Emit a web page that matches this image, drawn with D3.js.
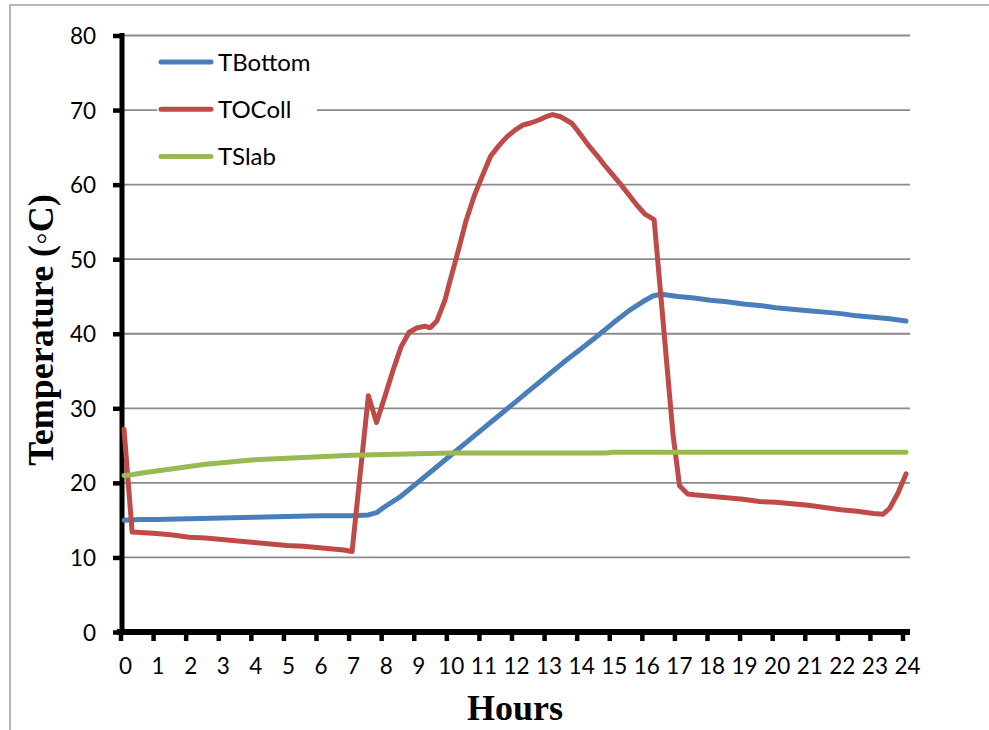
<!DOCTYPE html>
<html>
<head>
<meta charset="utf-8">
<script src="https://cdn.jsdelivr.net/npm/d3@7"></script>
<style>
  html, body { margin: 0; padding: 0; background: #fff; }
  svg { display: block; }
</style>
</head>
<body>
<svg id="chart" width="989" height="730"></svg>
<script>
// Hourly temperature profiles over one day (hour, °C)
const tBottom = [
  [0, 15.0], [0.5, 15.1], [1, 15.1], [2, 15.2], [3, 15.3], [4, 15.4], [5, 15.5],
  [6, 15.6], [7, 15.6], [7.5, 15.7], [7.75, 16.0], [8, 16.8], [8.5, 18.2], [9, 20.0],
  [9.5, 21.8], [10, 23.6], [10.5, 25.4], [11, 27.2], [11.5, 29.0], [12, 30.8],
  [12.5, 32.6], [13, 34.4], [13.5, 36.2], [14, 37.9], [14.5, 39.6], [15, 41.4],
  [15.5, 43.1], [16, 44.5], [16.25, 45.1], [16.5, 45.3], [17, 45.0], [17.5, 44.8],
  [18, 44.5], [18.5, 44.3], [19, 44.0], [19.5, 43.8], [20, 43.5], [20.5, 43.3],
  [21, 43.1], [21.5, 42.9], [22, 42.7], [22.5, 42.4], [23, 42.2], [23.5, 42.0], [24, 41.7]
];
const tOColl = [
  [0, 27.2], [0.25, 13.4], [1, 13.2], [1.5, 13.0], [2, 12.7], [2.5, 12.6], [3, 12.4],
  [3.5, 12.2], [4, 12.0], [4.5, 11.8], [5, 11.6], [5.5, 11.5], [6, 11.3], [6.5, 11.1],
  [6.75, 11.0], [7, 10.8], [7.5, 31.7], [7.75, 28.1], [8, 31.5], [8.25, 35.0],
  [8.5, 38.2], [8.75, 40.2], [9, 40.8], [9.25, 41.0], [9.4, 40.8], [9.6, 41.7],
  [9.85, 44.5], [10, 47.0], [10.25, 51.0], [10.5, 55.2], [10.75, 58.5], [11, 61.2],
  [11.25, 63.8], [11.5, 65.2], [11.75, 66.4], [12, 67.3], [12.25, 68.0], [12.5, 68.3],
  [12.75, 68.7], [13, 69.2], [13.15, 69.4], [13.4, 69.1], [13.75, 68.2], [14, 66.8],
  [14.25, 65.3], [14.5, 64.0], [14.75, 62.6], [15, 61.3], [15.25, 60.0], [15.5, 58.6],
  [15.75, 57.2], [16, 56.0], [16.27, 55.3], [16.85, 26.5], [17.05, 19.6], [17.3, 18.5],
  [17.5, 18.4], [18, 18.2], [18.5, 18.0], [19, 17.8], [19.5, 17.5], [20, 17.4],
  [20.5, 17.2], [21, 17.0], [21.5, 16.7], [22, 16.4], [22.5, 16.2], [23, 15.9],
  [23.3, 15.8], [23.5, 16.6], [23.75, 18.6], [24, 21.2]
];
const tSlab = [
  [0, 21.0], [0.25, 21.1], [0.5, 21.3], [1, 21.6], [1.5, 21.9], [2, 22.2], [2.5, 22.5],
  [3, 22.7], [3.5, 22.9], [4, 23.1], [4.5, 23.2], [5, 23.3], [5.5, 23.4], [6, 23.5],
  [6.5, 23.6], [7, 23.7], [8, 23.8], [9, 23.9], [10, 24.0], [12, 24.0], [14.8, 24.0],
  [15, 24.1], [24, 24.1]
];

const seriesNames = ["TBottom", "TOColl", "TSlab"];
const seriesColors = ["#4a7ebb", "#be4b48", "#98b954"];
const seriesData = [tBottom, tOColl, tSlab];

const hourTicks = d3.range(0, 25);          // 0 … 24
const tempTicks = [0, 10, 20, 30, 40, 50, 60, 70, 80];

const svg = d3.select("#chart");
const uiFont = "Lato, 'Open Sans', sans-serif";

// outer frame
svg.append("path")
  .attr("d", "M10,760 V5 H1000")
  .attr("fill", "none")
  .attr("stroke", "#a0a0a0")
  .attr("stroke-width", 1.5);

const x = d3.scaleLinear().domain([0, 24]).range([124, 906]);
const y = d3.scaleLinear().domain([0, 80]).range([632, 35.5]);
const plotLeft = 122, plotRight = 910;

// horizontal gridlines
svg.append("g")
  .selectAll("line")
  .data(tempTicks.filter(t => t > 0))
  .join("line")
  .attr("x1", plotLeft).attr("x2", plotRight)
  .attr("y1", d => y(d)).attr("y2", d => y(d))
  .attr("stroke", "#8a8a8a")
  .attr("stroke-width", 1.8);

// y axis
const yAxis = d3.axisLeft(y).tickValues(tempTicks).tickSize(9).tickPadding(17);
const gy = svg.append("g").attr("transform", `translate(${plotLeft},0)`).call(yAxis);
gy.select(".domain").attr("d", `M0,${y(80) - 2.5}V${y(0) + 3}`)
  .attr("stroke", "#000").attr("stroke-width", 5);
gy.selectAll(".tick line").attr("stroke", "#000").attr("stroke-width", 4.5);
gy.selectAll(".tick text")
  .attr("font-family", uiFont).attr("font-size", 22.5).attr("fill", "#000")
  .attr("dy", "0.36em");

// x axis
const xAxis = d3.axisBottom(x).tickValues(hourTicks).tickSize(9).tickPadding(17);
const gx = svg.append("g").attr("transform", `translate(0,${y(0)})`).call(xAxis);
gx.select(".domain").attr("d", `M${plotLeft - 5},0H${plotRight}`)
  .attr("stroke", "#000").attr("stroke-width", 6);
gx.selectAll(".tick line").attr("stroke", "#000").attr("stroke-width", 4.5)
  .attr("transform", "translate(-3.5,0)");
gx.selectAll(".tick text")
  .attr("font-family", uiFont).attr("font-size", 22.5).attr("fill", "#000")
  .attr("dx", 1);

// series lines
const line = d3.line().x(d => x(d[0])).y(d => y(d[1]));
svg.append("g")
  .selectAll("path")
  .data(seriesData)
  .join("path")
  .attr("d", line)
  .attr("fill", "none")
  .attr("stroke", (d, i) => seriesColors[i])
  .attr("stroke-width", 5)
  .attr("stroke-linejoin", "round")
  .attr("stroke-linecap", "round");

// legend
const legend = svg.append("g").attr("transform", "translate(161,62)");
const items = legend.selectAll("g")
  .data(seriesNames)
  .join("g")
  .attr("transform", (d, i) => `translate(0,${i * 47.3})`);
items.append("rect")
  .attr("x", -4).attr("y", -15).attr("width", 160).attr("height", 30)
  .attr("fill", "#fff");
items.append("line")
  .attr("x1", 0).attr("x2", 50).attr("y1", 0).attr("y2", 0)
  .attr("stroke", (d, i) => seriesColors[i])
  .attr("stroke-width", 5)
  .attr("stroke-linecap", "round");
items.append("text")
  .attr("x", 57).attr("y", 0).attr("dy", "0.36em")
  .attr("font-family", uiFont).attr("font-size", 24).attr("fill", "#000")
  .text(d => d);

// axis titles
svg.append("text")
  .attr("x", 515).attr("y", 720)
  .attr("text-anchor", "middle")
  .attr("font-family", "'Liberation Serif', 'Times New Roman', serif")
  .attr("font-weight", "bold").attr("font-size", 36)
  .text("Hours");

svg.append("text")
  .attr("transform", "translate(53,330) rotate(-90)")
  .attr("text-anchor", "middle")
  .attr("font-family", "'Liberation Serif', 'Times New Roman', serif")
  .attr("font-weight", "bold").attr("font-size", 36)
  .text("Temperature (◦C)");
</script>
</body>
</html>
